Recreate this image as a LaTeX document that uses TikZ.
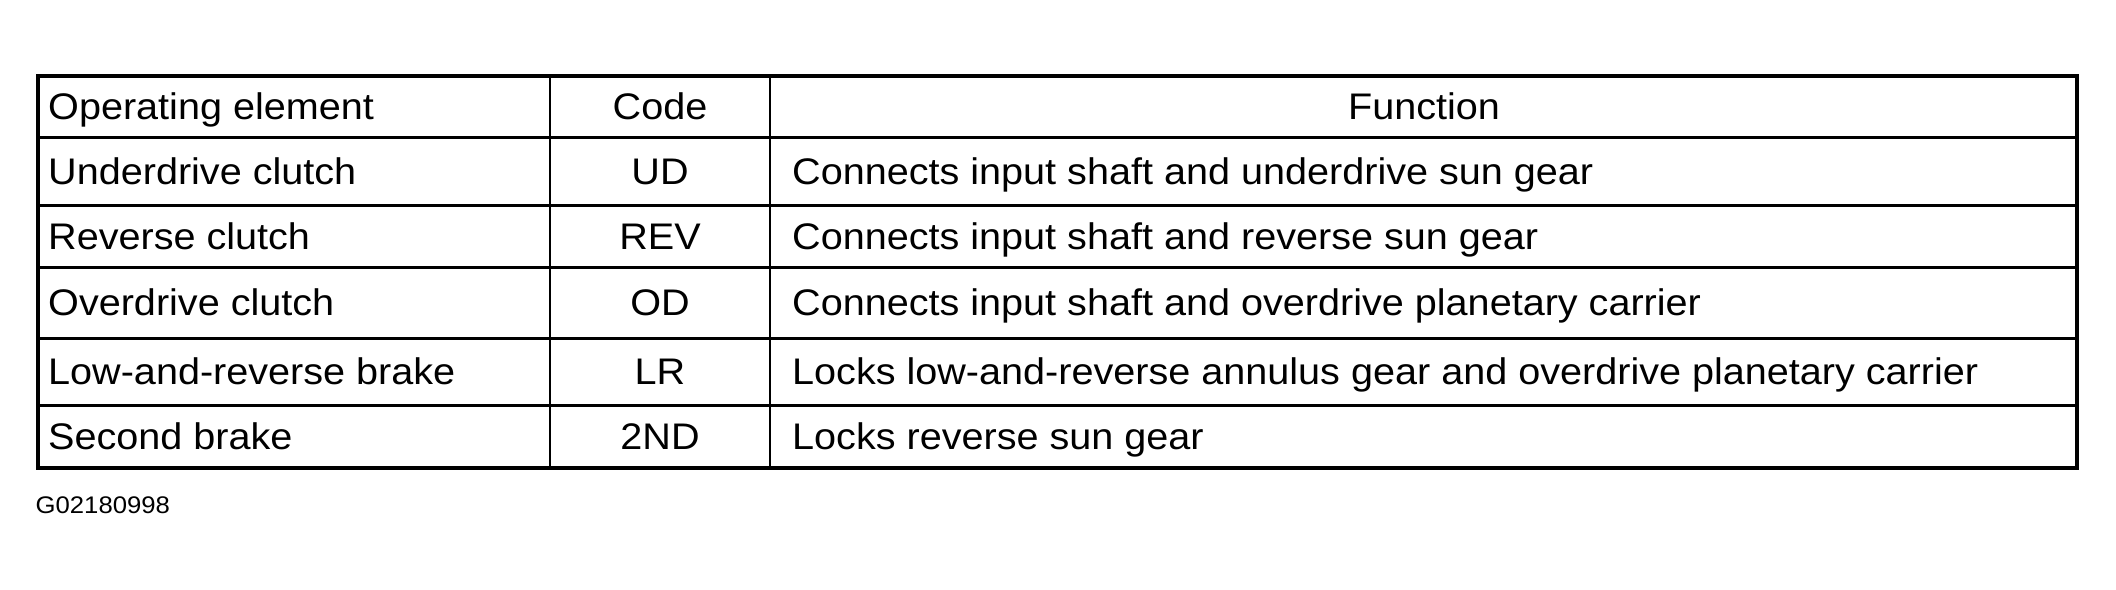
\documentclass[tikz,border=0pt]{standalone}
\usepackage{fontspec}
\setmainfont{Liberation Sans}[FakeStretch=1.07]
\newcommand\cellfont{\fontsize{37}{44}\selectfont}
\newcommand\notefont{\fontsize{24}{28}\selectfont}
\begin{document}
\begin{tikzpicture}[x=1pt,y=-1pt,
  lcell/.style={inner sep=0pt, anchor=base west, font=\cellfont},
  ccell/.style={inner sep=0pt, anchor=base, font=\cellfont},
  outerline/.style={line width=3.5pt},
  hline/.style={line width=3pt},
  vline/.style={line width=2.2pt}]
\useasboundingbox (0,0) rectangle (2116,589);
\fill[white] (0,0) rectangle (2116,589);
% grid coordinates
\coordinate (tl) at (38,76);
\coordinate (br) at (2077,468);
\foreach \n/\y in {1/137,2/205,3/267,4/338,5/405}{
  \coordinate (L\n) at (38,\y);
  \coordinate (R\n) at (2077,\y);
}
\coordinate (A0) at (550,76);  \coordinate (A1) at (550,468);
\coordinate (B0) at (770,76);  \coordinate (B1) at (770,468);
% rules
\foreach \n in {1,...,5}{ \draw[hline] (L\n) -- (R\n); }
\draw[vline] (A0) -- (A1);
\draw[vline] (B0) -- (B1);
\draw[outerline] (tl) rectangle (br);
% header
\node[lcell] (h1) at (48,119.7) {Operating element};
\node[ccell] (h2) at (660,119.7) {Code};
\node[ccell] (h3) at (1424,119.7) {Function};
% rows
\node[lcell] (e1) at (48,184.2) {Underdrive clutch};
\node[ccell] (c1) at (660,184.2) {UD};
\node[lcell] (f1) at (792,184.2) {Connects input shaft and underdrive sun gear};
\node[lcell] (e2) at (48,249.2) {Reverse clutch};
\node[ccell] (c2) at (660,249.2) {REV};
\node[lcell] (f2) at (792,249.2) {Connects input shaft and reverse sun gear};
\node[lcell] (e3) at (48,315.7) {Overdrive clutch};
\node[ccell] (c3) at (660,315.7) {OD};
\node[lcell] (f3) at (792,315.7) {Connects input shaft and overdrive planetary carrier};
\node[lcell] (e4) at (48,384.7) {Low-and-reverse brake};
\node[ccell] (c4) at (660,384.7) {LR};
\node[lcell] (f4) at (792,384.7) {Locks low-and-reverse annulus gear and overdrive planetary carrier};
\node[lcell] (e5) at (48,449.7) {Second brake};
\node[ccell] (c5) at (660,449.7) {2ND};
\node[lcell] (f5) at (792,449.7) {Locks reverse sun gear};
% figure id
\node[inner sep=0pt, anchor=base west, font=\notefont] (gid) at (35.5,513) {G02180998};
\end{tikzpicture}
\end{document}
